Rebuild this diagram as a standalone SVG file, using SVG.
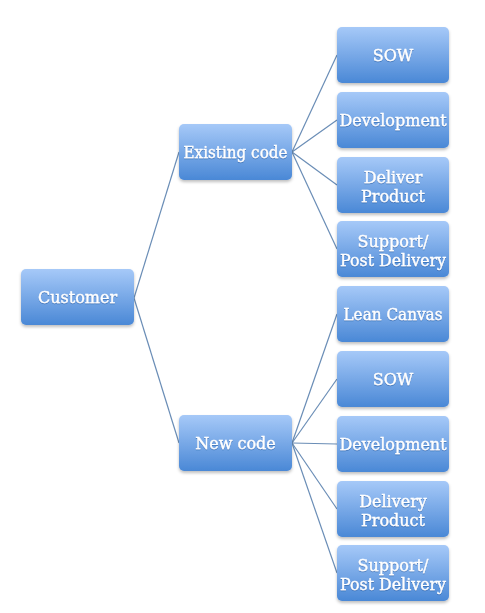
<svg xmlns="http://www.w3.org/2000/svg" width="485" height="613" viewBox="0 0 485 613">
<defs>
<linearGradient id="g" x1="0" y1="0" x2="0" y2="1">
<stop offset="0" stop-color="#a6c9f8"/>
<stop offset="1" stop-color="#4a88d6"/>
</linearGradient>
<filter id="sh" x="-10%" y="-10%" width="120%" height="130%">
<feDropShadow dx="0" dy="2" stdDeviation="1.5" flood-color="#000" flood-opacity="0.25"/>
</filter>
<filter id="ts" x="-5%" y="-20%" width="110%" height="140%">
<feDropShadow dx="0" dy="1" stdDeviation="0.6" flood-color="#1f4f8f" flood-opacity="0.45"/>
</filter>
</defs>
<style>
.box{fill:url(#g);filter:url(#sh)}
.t{font-family:"DejaVu Serif","Liberation Serif",serif;font-size:16px;fill:#fff;stroke:#fff;stroke-width:0.35;text-anchor:middle;filter:url(#ts)}
.c{stroke:#6a8db6;stroke-width:1.2;fill:none}
</style>
<rect width="485" height="613" fill="#fff"/>
<g id="connectors">
<line class="c" x1="134" y1="298" x2="179" y2="152"/>
<line class="c" x1="134" y1="298" x2="179" y2="443"/>
<line class="c" x1="292" y1="152" x2="337" y2="55"/>
<line class="c" x1="292" y1="152" x2="337" y2="120"/>
<line class="c" x1="292" y1="152" x2="337" y2="185"/>
<line class="c" x1="292" y1="152" x2="337" y2="249"/>
<line class="c" x1="292" y1="443" x2="337" y2="314"/>
<line class="c" x1="292" y1="443" x2="337" y2="379"/>
<line class="c" x1="292" y1="443" x2="337" y2="444"/>
<line class="c" x1="292" y1="443" x2="337" y2="509"/>
<line class="c" x1="292" y1="443" x2="337" y2="573"/>
</g>
<g id="customer"><rect class="box" x="21" y="269" width="113" height="56" rx="5"/><text class="t" x="77.5" y="303">Customer</text></g>
<g id="existing"><rect class="box" x="179" y="124" width="113" height="56" rx="5"/><text class="t" x="235.5" y="158" textLength="104" lengthAdjust="spacingAndGlyphs">Existing code</text></g>
<g id="newcode"><rect class="box" x="179" y="415" width="113" height="56" rx="5"/><text class="t" x="235.5" y="449">New code</text></g>
<g id="sow1"><rect class="box" x="337" y="27" width="112" height="56" rx="5"/><text class="t" x="393" y="61">SOW</text></g>
<g id="dev1"><rect class="box" x="337" y="92" width="112" height="56" rx="5"/><text class="t" x="393" y="126">Development</text></g>
<g id="deliver1"><rect class="box" x="337" y="157" width="112" height="56" rx="5"/><text class="t" x="393" y="183">Deliver</text><text class="t" x="393" y="202">Product</text></g>
<g id="support1"><rect class="box" x="337" y="221" width="112" height="56" rx="5"/><text class="t" x="393" y="247">Support/</text><text class="t" x="393" y="266" textLength="106" lengthAdjust="spacingAndGlyphs">Post Delivery</text></g>
<g id="lean"><rect class="box" x="337" y="286" width="112" height="56" rx="5"/><text class="t" x="393" y="320" textLength="99" lengthAdjust="spacingAndGlyphs">Lean Canvas</text></g>
<g id="sow2"><rect class="box" x="337" y="351" width="112" height="56" rx="5"/><text class="t" x="393" y="385">SOW</text></g>
<g id="dev2"><rect class="box" x="337" y="416" width="112" height="56" rx="5"/><text class="t" x="393" y="450">Development</text></g>
<g id="delivery2"><rect class="box" x="337" y="481" width="112" height="56" rx="5"/><text class="t" x="393" y="507">Delivery</text><text class="t" x="393" y="526">Product</text></g>
<g id="support2"><rect class="box" x="337" y="545" width="112" height="56" rx="5"/><text class="t" x="393" y="571">Support/</text><text class="t" x="393" y="590" textLength="106" lengthAdjust="spacingAndGlyphs">Post Delivery</text></g>
</svg>
